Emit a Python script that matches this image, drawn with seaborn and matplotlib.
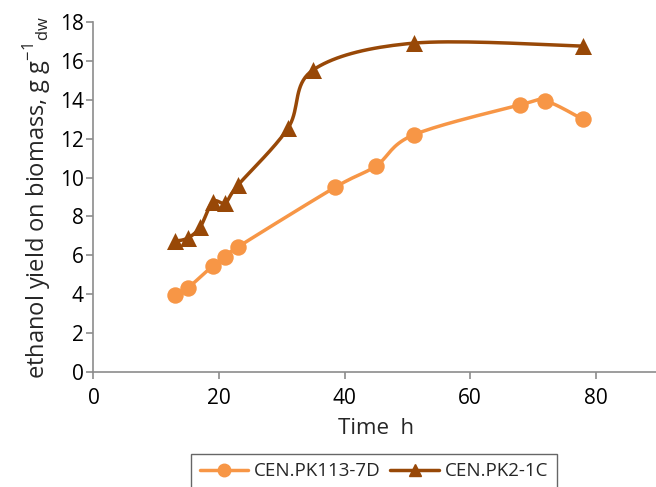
import matplotlib
matplotlib.use('Agg')
import matplotlib.pyplot as plt
from matplotlib.lines import Line2D
import seaborn as sns
import pandas as pd
import numpy as np

# data
time_7d = [13, 15, 19, 21, 23, 38.5, 45, 51, 68, 72, 78]
yield_7d = [3.95, 4.3, 5.45, 5.9, 6.42, 9.5, 10.6, 12.2, 13.75, 13.95, 13.0]
time_1c = [13, 15, 17, 19, 21, 23, 31, 35, 51, 78]
yield_1c = [6.72, 6.88, 7.45, 8.75, 8.7, 9.6, 12.55, 15.55, 16.93, 16.78]

labels = ['CEN.PK113-7D', 'CEN.PK2-1C']
colors = ['#F79646', '#984807']
markers = ['o', '^']


def smooth(x, y, n=20, sx=6.28, sy=19.4):
    """Excel-like smoothed line (Catmull-Rom through the points)"""
    p = np.column_stack([np.asarray(x) * sx, np.asarray(y) * sy])
    p = np.vstack([p[0], p, p[-1]])
    out = []
    t = np.linspace(0, 1, n)[:, None]
    for i in range(1, len(p) - 2):
        p0, p1, p2, p3 = p[i - 1], p[i], p[i + 1], p[i + 2]
        c1 = p1 + (p2 - p0) / 6
        c2 = p2 - (p3 - p1) / 6
        seg = ((1 - t) ** 3 * p1 + 3 * (1 - t) ** 2 * t * c1
               + 3 * (1 - t) * t ** 2 * c2 + t ** 3 * p2)
        out.append(seg)
    out = np.vstack(out)
    return out[:, 0] / sx, out[:, 1] / sy


sns.set_style('white')
plt.rcParams['font.family'] = ['Open Sans', 'DejaVu Sans']

fig = plt.figure(figsize=(6.56, 4.87), dpi=100)
ax = fig.add_axes([0.1425, 0.237, 0.861, 0.717])

series = [(time_7d, yield_7d), (time_1c, yield_1c)]
for (t, v), lab, c, m in zip(series, labels, colors, markers):
    sx_, sy_ = smooth(t, v)
    ax.plot(sx_, sy_, color=c, lw=2.5, zorder=2)
    df = pd.DataFrame({'time': t, 'yield': v})
    sns.scatterplot(data=df, x='time', y='yield', ax=ax, color=c, marker=m,
                    s=140 if m == 'o' else 150, edgecolor=c, linewidth=0, zorder=3)

ax.set_xlim(0, 90)
ax.set_ylim(0, 18)
ax.set_xticks([0, 20, 40, 60, 80])
ax.set_yticks(range(0, 19, 2))
for s in ['top', 'right']:
    ax.spines[s].set_visible(False)
for s in ['left', 'bottom']:
    ax.spines[s].set_color('#8c8c8c')
    ax.spines[s].set_linewidth(1.2)
ax.tick_params(axis='both', direction='out', length=5, width=1.2,
               color='#8c8c8c', labelsize=15, labelcolor='black', pad=2,
               bottom=True, left=True)
ax.tick_params(axis='x', pad=7)
ax.set_xlabel('Time  h', fontsize=16, labelpad=6)
ax.set_ylabel(r'ethanol yield on biomass, g g$^{\mathregular{-1}}$$_{\mathregular{dw}}$',
              fontsize=17, labelpad=5)

handles = [Line2D([], [], color=c, marker=m, lw=2.5, markersize=9)
           for c, m in zip(colors, markers)]
leg = fig.legend(handles, labels, loc='upper center', bbox_to_anchor=(0.57, 0.068),
                 ncol=2, fontsize=13.5, frameon=True, fancybox=False,
                 handlelength=2.6, columnspacing=0.5, handletextpad=0.3,
                 borderpad=0.45, borderaxespad=0)
leg.get_frame().set_edgecolor('#404040')
leg.get_frame().set_linewidth(1.0)

fig.savefig('out.png', dpi=100)
